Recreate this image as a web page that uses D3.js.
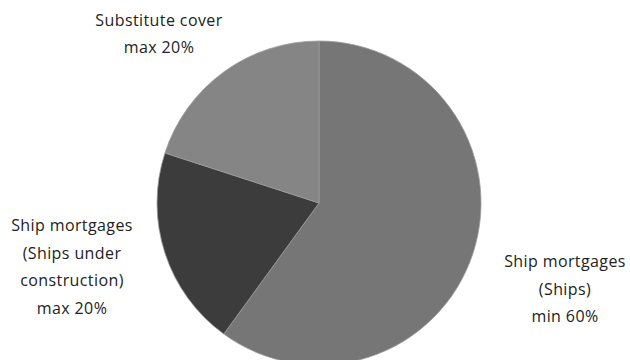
<!DOCTYPE html>
<html>
<head>
<meta charset="utf-8">
<script src="https://cdn.jsdelivr.net/npm/d3@7"></script>
<style>
  body { margin: 0; background: #fff; }
</style>
</head>
<body>
<div id="chart"></div>
<script>
// data
var categories = ["Ship mortgages (Ships)", "Ship mortgages (Ships under construction)", "Substitute cover"];
var shares = [60, 20, 20];
var labelLines = [
    ["Ship mortgages", "(Ships)", "min 60%"],
    ["Ship mortgages", "(Ships under", "construction)", "max 20%"],
    ["Substitute cover", "max 20%"]
];
var colors = ["#767676", "#3c3c3c", "#858585"];

var width = 630, height = 360;
var cx = 319, cy = 203, radius = 162;

var svg = d3.select("#chart")
    .append("svg")
    .attr("width", width)
    .attr("height", height);

var g = svg.append("g")
    .attr("transform", "translate(" + cx + "," + cy + ")");

var pie = d3.pie().sort(null).value(d => d);
var arcs = pie(shares);

var arc = d3.arc().innerRadius(0).outerRadius(radius);

g.selectAll("path")
    .data(arcs)
    .enter()
    .append("path")
    .attr("d", arc)
    .attr("fill", (d, i) => colors[i])
    .attr("stroke", "#9c9c9c")
    .attr("stroke-width", 0.8);

// label positions (centre of text block, relative to page)
var labelPos = [[565, 289], [72, 267], [159, 34]];
var lineH = 27.5;

labelLines.forEach(function (lines, i) {
    var t = svg.append("text")
        .attr("text-anchor", "middle")
        .attr("font-family", "Open Sans, sans-serif")
        .attr("font-size", 16)
        .attr("letter-spacing", 0.4)
        .attr("fill", "#222");
    var y0 = labelPos[i][1] - (lines.length - 1) * lineH / 2;
    lines.forEach(function (s, j) {
        t.append("tspan")
            .attr("x", labelPos[i][0])
            .attr("y", y0 + j * lineH)
            .attr("dy", "0.35em")
            .text(s);
    });
});
</script>
</body>
</html>
